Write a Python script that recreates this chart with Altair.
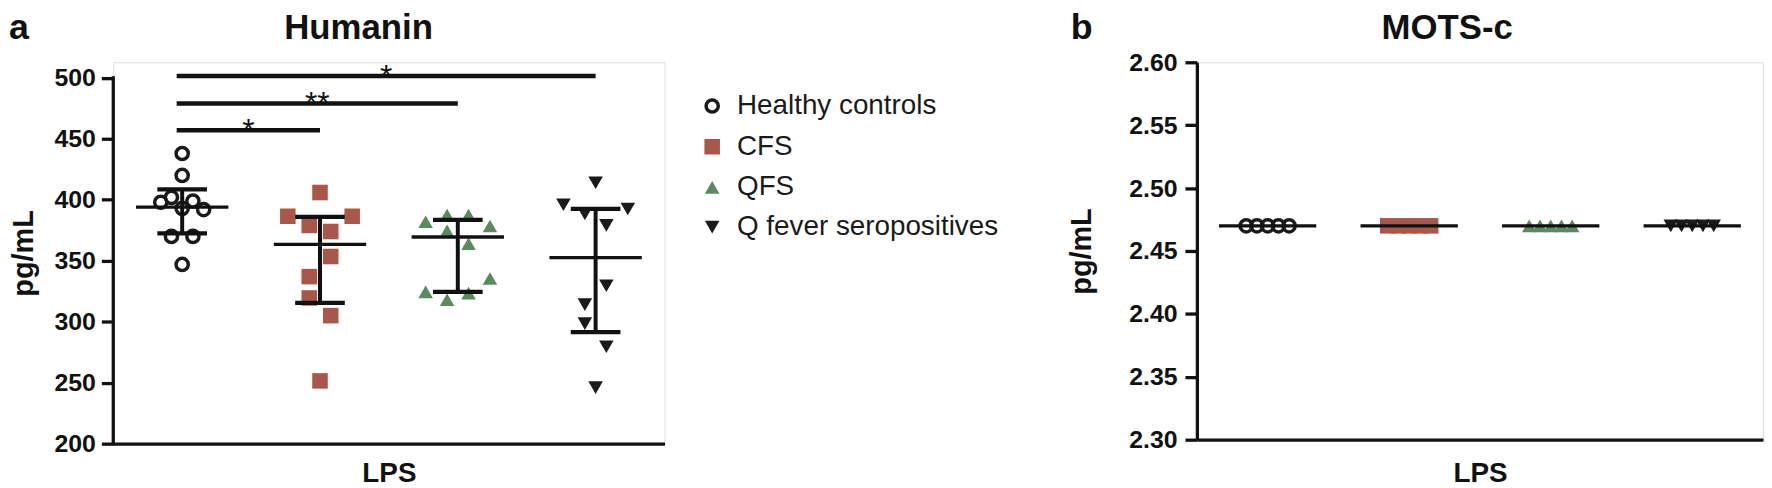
import altair as alt
import pandas as pd

FONT = "Liberation Sans"
INK = "#111111"

GROUPS = ["Healthy controls", "CFS", "QFS", "Q fever seropositives"]
SHAPES = ["circle", "square", "triangle-up", "triangle-down"]
FILLS = ["transparent", "#a9574a", "#5b8a5e", "#1a1a1a"]
STROKES = ["#1a1a1a", "transparent", "transparent", "transparent"]
SIZES = [150, 245, 215, 215]

# ---- Panel a : Humanin (pg/mL) after LPS ----
hum_hc = [438, 420, 402, 399, 398, 393, 392, 370, 370, 347]
hum_cfs = [406, 386.5, 386.5, 379, 374, 353.5, 337, 319.5, 305, 251.5]
hum_qfs = [382, 387.5, 387.5, 378.5, 374.5, 364, 335.5, 324.5, 318, 323.5]
hum_qf = [414, 396, 392.5, 388.5, 379, 329.5, 314, 298.5, 279.5, 246]
# dot-column slot of every point, as arranged in the figure
slot_hc = [0, 0, -1, 1, -2, 0, 2, -1, 1, 0]
slot_cfs = [0, -3, 3, -1, 1, 1, -1, -1, 1, 0]
slot_qfs = [-3, -1, 1, 3, -1, 1, 3, -3, -1, 1]
slot_qf = [0, -3, 3, -1, 1, 1, -1, -1, 1, 0]
hum_center = [394, 363.5, 369.5, 352.5]
hum_err_lo = [372.5, 315.5, 324.5, 291.5]
hum_err_hi = [408.5, 386, 383.5, 392.5]
sig_to = ["CFS", "QFS", "Q fever seropositives"]
sig_y = [457, 479, 501.5]
sig_text = ["*", "**", "*"]
hum_ticks = [200, 250, 300, 350, 400, 450, 500]

# ---- Panel b : MOTS-c (pg/mL) after LPS ----
mots_hc = [2.47, 2.47, 2.47, 2.47, 2.47]
mots_cfs = [2.47, 2.47, 2.47, 2.47, 2.47]
mots_qfs = [2.47, 2.47, 2.47, 2.47, 2.47]
mots_qf = [2.47, 2.47, 2.47, 2.47, 2.47]
mots_slot = [-2, -1, 0, 1, 2]
mots_center = [2.47, 2.47, 2.47, 2.47]
mots_ticks = [2.30, 2.35, 2.40, 2.45, 2.50, 2.55, 2.60]

# ---------------- layout constants ----------------
XDOM = [-0.5, 3.5]
A_W, A_H = 555, 384
B_W, B_H = 570, 380
SLOT_A = 10.8 / (A_W / 4)
SLOT_B = 10.8 / (B_W / 4)
A_YDOM = [200, 512.8]
HEAD_Y = -23          # baseline of panel letters and panel titles (px above plot top)


def points(vals_list, slots_list, slot_w):
    rows = []
    for gi, (vals, slots) in enumerate(zip(vals_list, slots_list)):
        for v, s in zip(vals, slots):
            rows.append({"g": GROUPS[gi], "x": gi + s * slot_w, "v": v})
    return pd.DataFrame(rows)


df_a = points([hum_hc, hum_cfs, hum_qfs, hum_qf],
              [slot_hc, slot_cfs, slot_qfs, slot_qf], SLOT_A)
df_b = points([mots_hc, mots_cfs, mots_qfs, mots_qf], [mots_slot] * 4, SLOT_B)

summ_a = pd.DataFrame({"g": GROUPS, "x": list(range(4)), "c": hum_center,
                       "lo": hum_err_lo, "hi": hum_err_hi})
summ_b = pd.DataFrame({"g": GROUPS, "x": list(range(4)), "c": mots_center})

sig_x0 = -0.04
sig_df = pd.DataFrame({
    "x0": [sig_x0] * 3,
    "x1": [GROUPS.index(t) for t in sig_to],
    "y": sig_y,
    "t": sig_text,
})
sig_df["xm"] = (sig_df["x0"] + sig_df["x1"]) / 2

axis_df = pd.DataFrame({"x": [XDOM[0]], "v": [hum_ticks[0]], "v2": [hum_ticks[-1]]})

xscale = alt.Scale(domain=XDOM, nice=False, zero=False)


def xaxis(pad):
    return alt.Axis(title="LPS", ticks=False, labels=False, grid=False, domain=True,
                    domainColor=INK, domainWidth=3.3, titleFont=FONT, titleFontSize=28,
                    titleFontWeight="bold", titleColor=INK, titlePadding=pad)


XA = xaxis(16)


def X(f):
    return alt.X(f"{f}:Q", scale=xscale, axis=XA)


ya_scale = alt.Scale(domain=A_YDOM, nice=False, zero=False)
ya_axis = alt.Axis(title="pg/mL", values=hum_ticks, domain=False, grid=False, tickSize=12,
                   tickWidth=3.3, tickColor=INK, labelFont=FONT, labelFontSize=25,
                   labelFontWeight="bold", labelColor=INK, labelPadding=6,
                   titleFont=FONT, titleFontSize=29, titleFontWeight="bold",
                   titleColor=INK, titlePadding=16)


def YA(f):
    return alt.Y(f"{f}:Q", scale=ya_scale, axis=ya_axis)


yb_scale = alt.Scale(domain=[mots_ticks[0], mots_ticks[-1]], nice=False, zero=False)
yb_axis = alt.Axis(title="pg/mL", values=mots_ticks, format=".2f", domain=True,
                   domainColor=INK, domainWidth=3.3, grid=False, tickSize=12,
                   tickWidth=3.3, tickColor=INK, labelFont=FONT, labelFontSize=25,
                   labelFontWeight="bold", labelColor=INK, labelPadding=8,
                   titleFont=FONT, titleFontSize=29, titleFontWeight="bold",
                   titleColor=INK, titlePadding=32)


def YB(f):
    return alt.Y(f"{f}:Q", scale=yb_scale, axis=yb_axis)


leg = alt.Legend(title=None, orient="none", legendX=589, legendY=30, labelFont=FONT,
                 labelFontSize=28, labelColor="#1a1a1a", labelOffset=11,
                 rowPadding=12, padding=0, symbolStrokeWidth=3.5, labelLimit=500)


def group_enc(legend):
    return dict(
        shape=alt.Shape("g:N", scale=alt.Scale(domain=GROUPS, range=SHAPES), legend=legend),
        fill=alt.Fill("g:N", scale=alt.Scale(domain=GROUPS, range=FILLS), legend=legend),
        stroke=alt.Stroke("g:N", scale=alt.Scale(domain=GROUPS, range=STROKES), legend=legend),
        size=alt.Size("g:N", scale=alt.Scale(type="ordinal", domain=GROUPS, range=SIZES),
                      legend=legend),
    )


def head_text(text, x, size, align):
    return alt.Chart(axis_df).mark_text(
        text=text, font=FONT, fontSize=size, fontWeight="bold", align=align,
        baseline="alphabetic", color=INK).encode(x=alt.value(x), y=alt.value(HEAD_Y))


# ---------------- panel a ----------------
a_axis_line = alt.Chart(axis_df).mark_rule(color=INK, strokeWidth=3.3, strokeCap="square").encode(
    x=X("x"), y=YA("v"), y2="v2")
a_pts = alt.Chart(df_a).mark_point(filled=True, strokeWidth=3.5, opacity=1).encode(
    x=X("x"), y=YA("v"), **group_enc(leg))
a_err = alt.Chart(summ_a).mark_rule(color=INK, strokeWidth=4).encode(
    x=X("x"), y=YA("lo"), y2="hi")
a_cap_lo = alt.Chart(summ_a).mark_tick(orient="horizontal", size=50, thickness=4.3,
                                       color=INK, opacity=1).encode(x=X("x"), y=YA("lo"))
a_cap_hi = alt.Chart(summ_a).mark_tick(orient="horizontal", size=50, thickness=4.3,
                                       color=INK, opacity=1).encode(x=X("x"), y=YA("hi"))
a_mid = alt.Chart(summ_a).mark_tick(orient="horizontal", size=93, thickness=3.3,
                                    color=INK, opacity=1).encode(x=X("x"), y=YA("c"))
a_sig = alt.Chart(sig_df).mark_rule(color=INK, strokeWidth=4.5).encode(
    x=X("x0"), x2="x1", y=YA("y"))
a_sig_t = alt.Chart(sig_df).mark_text(font=FONT, fontSize=32, color=INK,
                                      baseline="alphabetic", dy=11).encode(
    x=X("xm"), y=YA("y"), text="t:N")
a_letter = head_text("a", -105, 36, "left")
a_title = head_text("Humanin", 247, 35, "center")

panel_a = alt.layer(a_axis_line, a_pts, a_err, a_cap_lo, a_cap_hi, a_mid, a_sig, a_sig_t,
                    a_letter, a_title).properties(width=A_W, height=A_H)

# ---------------- panel b ----------------
XB = xaxis(20)
b_pts = alt.Chart(df_b).mark_point(filled=True, strokeWidth=3.5, opacity=1).encode(
    x=alt.X("x:Q", scale=xscale, axis=XB), y=YB("v"), **group_enc(None))
b_mid = alt.Chart(summ_b).mark_tick(orient="horizontal", size=98, thickness=3.3,
                                    color=INK, opacity=1).encode(
    x=alt.X("x:Q", scale=xscale, axis=XB), y=YB("c"))
b_letter = head_text("b", -127, 36, "left")
b_title = head_text("MOTS-c", 252, 35, "center")

panel_b = alt.layer(b_pts, b_mid, b_letter, b_title).properties(width=B_W, height=B_H)

chart = alt.hconcat(panel_a, panel_b, spacing=68).resolve_scale(
    shape="independent", fill="independent", stroke="independent", size="independent"
).properties(padding=0).configure_view(stroke=None).configure(background="white")

chart.save("out.html", embed_options={"renderer": "svg", "actions": False})
